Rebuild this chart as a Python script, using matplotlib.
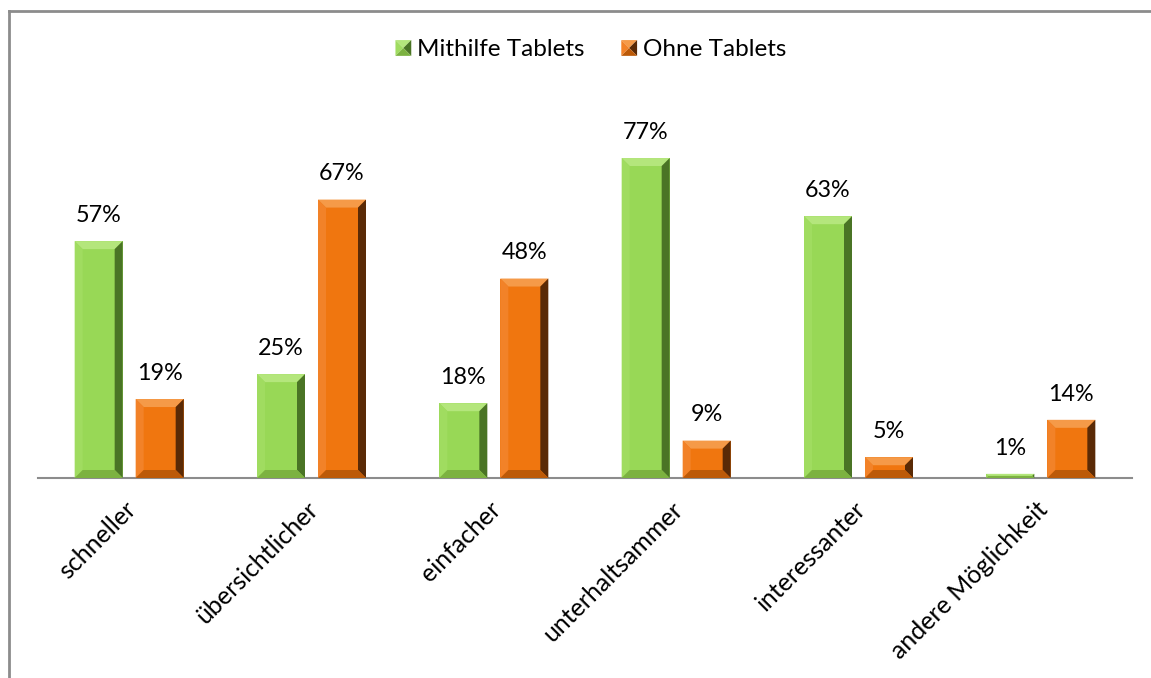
import matplotlib.pyplot as plt
from matplotlib.patches import Polygon, Rectangle
from matplotlib.legend_handler import HandlerPatch
from matplotlib.transforms import ScaledTranslation

categories = ["schneller", "übersichtlicher", "einfacher", "unterhaltsammer",
              "interessanter", "andere Möglichkeit"]
mit_tablets = [57, 25, 18, 77, 63, 1]
ohne_tablets = [19, 67, 48, 9, 5, 14]
series_names = ["Mithilfe Tablets", "Ohne Tablets"]

# face, top, left, right, bottom shades for the bevelled look
green = ["#98d856", "#b4e67c", "#a0dc60", "#4a7425", "#7cb240"]
orange = ["#f0760f", "#f59a48", "#f28228", "#5a2a06", "#bc5a08"]

plt.rcParams["font.family"] = ["Lato", "DejaVu Sans"]
fs_val = 16.8
fs_leg = 17.5
fs_tick = 18

W, H = 1151, 678
fig = plt.figure(figsize=(W / 100, H / 100), dpi=100)
fig.patch.set_facecolor("white")

ymax = 90
ax = fig.add_axes([38 / W, (H - 478) / H, (1132 - 38) / W, 374 / H])
ax.set_xlim(-0.5, len(categories) - 0.5)
ax.set_ylim(0, ymax)

# px per data unit, used to size the bevels in pixels
px_x = (1132 - 38) / len(categories)
px_y = 374 / ymax

bw = 48 / px_x
off = 30.5 / px_x


def bevel(rect, shades, size=8):
    x0, y0 = rect.get_x(), rect.get_y()
    x1, y1 = x0 + rect.get_width(), y0 + rect.get_height()
    wpx = rect.get_width() * px_x
    hpx = rect.get_height() * px_y
    b = min(size, wpx / 2, hpx / 2)
    bx, by = b / px_x, b / px_y
    faces = [
        ([(x0, y1), (x1, y1), (x1 - bx, y1 - by), (x0 + bx, y1 - by)], shades[1]),
        ([(x0, y0), (x0, y1), (x0 + bx, y1 - by), (x0 + bx, y0 + by)], shades[2]),
        ([(x1, y0), (x1, y1), (x1 - bx, y1 - by), (x1 - bx, y0 + by)], shades[3]),
        ([(x0, y0), (x1, y0), (x1 - bx, y0 + by), (x0 + bx, y0 + by)], shades[4]),
    ]
    for pts, c in faces:
        ax.add_patch(Polygon(pts, closed=True, facecolor=c, edgecolor="none", zorder=3))


x = range(len(categories))
bars1 = ax.bar([i - off for i in x], mit_tablets, bw, color=green[0], zorder=2,
               label=series_names[0])
bars2 = ax.bar([i + off for i in x], ohne_tablets, bw, color=orange[0], zorder=2,
               label=series_names[1])

for bars, vals, shades in [(bars1, mit_tablets, green), (bars2, ohne_tablets, orange)]:
    for r, v in zip(bars, vals):
        bevel(r, shades)
        ax.annotate(f"{v}%", (r.get_x() + r.get_width() / 2, v),
                    xytext=(0, 11), textcoords="offset points",
                    ha="center", va="bottom", fontsize=fs_val, color="black")

for s in ["top", "right", "left"]:
    ax.spines[s].set_visible(False)
ax.spines["bottom"].set_color("#8c8c8c")
ax.spines["bottom"].set_linewidth(1.5)
ax.set_yticks([])
ax.set_xticks(list(x))
ax.set_xticklabels(categories, rotation=45, ha="right", va="top",
                   rotation_mode="anchor", fontsize=fs_tick)
ax.tick_params(axis="x", length=0, pad=14)
shift = ScaledTranslation(-5 / 100, 0, fig.dpi_scale_trans)
for lbl in ax.get_xticklabels():
    lbl.set_transform(lbl.get_transform() + shift)


class BevelHandler(HandlerPatch):
    def __init__(self, shades):
        super().__init__()
        self.shades = shades

    def create_artists(self, legend, orig_handle, xdescent, ydescent,
                       width, height, fontsize, trans):
        s = min(width, height)
        x0 = -xdescent + (width - s)
        y0 = -ydescent + (height - s) / 2
        x1, y1 = x0 + s, y0 + s
        cx, cy = x0 + s / 2, y0 + s / 2
        tri = [
            ([(x0, y1), (x1, y1), (cx, cy)], self.shades[1]),
            ([(x0, y0), (x0, y1), (cx, cy)], self.shades[2]),
            ([(x1, y0), (x1, y1), (cx, cy)], self.shades[3]),
            ([(x0, y0), (x1, y0), (cx, cy)], self.shades[4]),
        ]
        arts = []
        for pts, c in tri:
            p = Polygon(pts, closed=True, facecolor=c, edgecolor="none", transform=trans)
            arts.append(p)
        return arts


h1 = Rectangle((0, 0), 1, 1)
h2 = Rectangle((0, 0), 1, 1)
fig.legend([h1, h2], series_names, loc="center", bbox_to_anchor=(591 / W, (H - 50) / H),
           ncol=2, frameon=False, fontsize=fs_leg, handlelength=0.65, handleheight=0.65,
           handletextpad=0.25, columnspacing=1.5,
           handler_map={h1: BevelHandler(green), h2: BevelHandler(orange)})

# outer chart border (left and top edges visible)
fig.add_artist(plt.Line2D([9 / W, 9 / W], [0, (H - 11) / H], transform=fig.transFigure,
                          color="#8c8c8c", lw=2))
fig.add_artist(plt.Line2D([9 / W, 1], [(H - 11) / H, (H - 11) / H], transform=fig.transFigure,
                          color="#8c8c8c", lw=2))

fig.savefig("out.png", dpi=100)
